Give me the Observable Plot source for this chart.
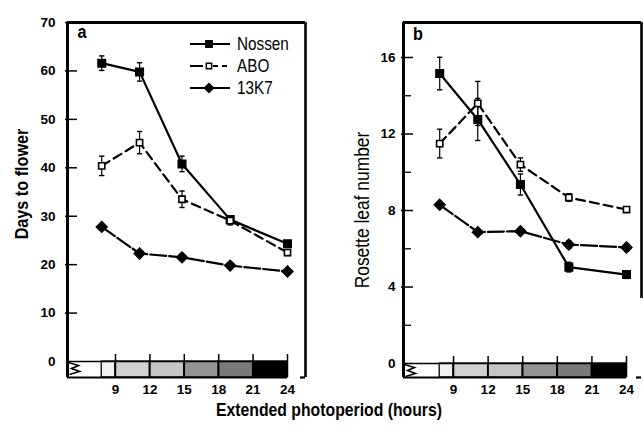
<!DOCTYPE html>
<html><head><meta charset="utf-8">
<script src="https://cdn.jsdelivr.net/npm/d3@7"></script>
<script src="https://cdn.jsdelivr.net/npm/@observablehq/plot@0.6"></script>
<style>
body{margin:0;background:#fff;}
#chart{position:relative;width:643px;height:427px;overflow:hidden;background:#fff;
  font-family:"Liberation Sans",Arial,sans-serif;color:#000;}
.lbl{position:absolute;white-space:nowrap;line-height:1;}
</style></head><body><div id="chart"></div>
<script>
// ---- data ----
const hours = [7.8, 11.1, 14.8, 19, 24];
const seriesNames = ["Nossen", "ABO", "13K7"];
// panel a: days to flower
const nossenDays = [61.6, 59.8, 40.8, 29.3, 24.3];
const aboDays    = [40.4, 45.2, 33.5, 29.1, 22.5];
const k7Days     = [27.8, 22.3, 21.5, 19.8, 18.6];
const nossenDaysErr = [1.5, 1.9, 1.6, 0.6, 0.6];
const aboDaysErr    = [2.0, 2.3, 1.7, 0.9, 0.6];
const k7DaysErr     = [0.4, 0.4, 0.4, 0.4, 0.4];
// panel b: rosette leaf number
const nossenLeaves = [15.16, 12.76, 9.36, 5.04, 4.65];
const aboLeaves    = [11.5, 13.6, 10.4, 8.68, 8.05];
const k7Leaves     = [8.3, 6.87, 6.92, 6.22, 6.07];
const nossenLeavesErr = [0.85, 1.1, 0.55, 0.25, 0.2];
const aboLeavesErr    = [0.75, 1.15, 0.35, 0.2, 0.12];
const k7LeavesErr     = [0.15, 0.1, 0.1, 0.2, 0.2];
// x tick labels and photoperiod bar
const xTicks = [9, 12, 15, 18, 21, 24];
const barStart = [7.8, 9, 12, 15, 18, 21];
const barEnd   = [9, 12, 15, 18, 21, 24];
const barShade = ["#f1f1f1", "#d0d0d0", "#c4c4c4", "#949494", "#7a7a7a", "#000000"];
// y ticks
const daysTicks = [0, 10, 20, 30, 40, 50, 60, 70];
const leafTicks = [0, 4, 8, 12, 16];
const leafMinor = [2, 6, 10, 14];

const FONT = "'Liberation Sans',Arial,sans-serif";
const styles = {
  Nossen: {dash: null, sym: "square", fill: "black", r: 4.2},
  ABO: {dash: "9,5", sym: "square", fill: "white", r: 3.5},
  "13K7": {dash: "16,3", sym: "diamond2", fill: "black", r: 4.8}
};
function rows(vals, errs) {
  return vals.flatMap((v, s) => hours.map((h, i) => ({name: seriesNames[s], h, v: v[i], e: errs[s][i]})));
}
const capSymbol = {draw(ctx, size) { const w = Math.sqrt(size) / 2; ctx.moveTo(-w, 0); ctx.lineTo(w, 0); }};
// axis-break zigzag glyph (decoration drawn in pixels relative to the frame corner)
const zigSymbol = {draw(ctx) {
  ctx.moveTo(1, 1); ctx.lineTo(11, 4); ctx.lineTo(4, 7); ctx.lineTo(12, 10); ctx.lineTo(2, 13);
}};

function panel({data, W, mr, xDomain, yDomain, yTicks, minor, tickPad, rightBottom}) {
  const [x0, x1] = xDomain, [y0, y1] = yDomain;
  const innerH = 427 - 22 - 50;
  const pxY = innerH / (y1 - y0);
  const pxX = (W - 67 - mr) / (x1 - x0);
  const segs = barStart.map((s, i) => ({a: s, b: barEnd[i], c: barShade[i]}));
  const caps = data.flatMap(d => [{h: d.h, y: d.v + d.e}, {h: d.h, y: d.v - d.e}]);
  const marks = [
    Plot.rect(segs, {x1: "a", x2: "b", y1: y0, y2: 0, fill: "c", stroke: "black", strokeWidth: 1.3}),
    Plot.ruleY([0], {x1: x0, x2: 24, strokeWidth: 1.5}),
    Plot.ruleY([y0], {x1: x0, x2: 24, strokeWidth: 2.2}),
    Plot.dot([0], {x: x0, y: 0, symbol: zigSymbol, stroke: "black", strokeWidth: 1.6, fill: "none"}),
    Plot.ruleX(xTicks, {y1: y0, y2: 7 / pxY, strokeWidth: 1.5}),
    Plot.ruleX([x0], {y1: y0, y2: y1, strokeWidth: 3}),
    Plot.ruleY([y1], {x1: x0, x2: x1, strokeWidth: 3}),
    Plot.ruleX([x1], {y1: rightBottom, y2: y1, strokeWidth: 2.6}),
    Plot.ruleY([y0], {x1: x1 - 5 / pxX, x2: x1, strokeWidth: 2.2}),
    Plot.ruleY(yTicks.filter(t => t > 0), {x1: x0 - 2 / pxX, x2: x0 + 10 / pxX, strokeWidth: 1.5}),
    Plot.ruleY(minor, {x1: x0, x2: x0 + 8 / pxX, strokeWidth: 1.3}),
    Plot.axisY(yTicks, {tickSize: 0, tickPadding: tickPad, fontSize: 13.5, fontWeight: "bold", label: null}),
    Plot.axisX(xTicks, {tickSize: 0, tickPadding: 7, fontSize: 13.5, fontWeight: "bold", label: null}),
    Plot.ruleX(data, {x: "h", y1: d => d.v - d.e, y2: d => d.v + d.e, strokeWidth: 1.2}),
    Plot.dot(caps, {x: "h", y: "y", symbol: capSymbol, r: 3, stroke: "black", strokeWidth: 1.4, fill: "none"})
  ];
  for (const n of seriesNames) {
    const st = styles[n];
    marks.push(Plot.line(data.filter(d => d.name === n), {x: "h", y: "v", stroke: "black", strokeWidth: 2.2, strokeDasharray: st.dash}));
  }
  for (const n of seriesNames) {
    const st = styles[n];
    marks.push(Plot.dot(data.filter(d => d.name === n), {x: "h", y: "v", symbol: st.sym, r: st.r, fill: st.fill, stroke: "black", strokeWidth: 1.6}));
  }
  const svg = Plot.plot({
    width: W, height: 427, marginLeft: 67, marginRight: mr, marginTop: 22, marginBottom: 50,
    x: {domain: xDomain}, y: {domain: yDomain}, color: {type: "identity"},
    style: {background: "transparent", fontFamily: FONT, color: "black"},
    marks
  });
  svg.style.position = "absolute";
  svg.style.top = "0px";
  return svg;
}

const chart = document.getElementById("chart");
const pa = panel({data: rows([nossenDays, aboDays, k7Days], [nossenDaysErr, aboDaysErr, k7DaysErr]),
  W: 336, mr: 31, xDomain: [4.815, 25.57], yDomain: [-3.3, 70], yTicks: daysTicks, minor: [], tickPad: 12, rightBottom: -3.3});
const pb = panel({data: rows([nossenLeaves, aboLeaves, k7Leaves], [nossenLeavesErr, aboLeavesErr, k7LeavesErr]),
  W: 307, mr: 2, xDomain: [4.66, 25.3], yDomain: [-0.73, 17.83], yTicks: leafTicks, minor: leafMinor, tickPad: 8, rightBottom: 3.4});
pa.style.left = "0px"; pb.style.left = "336px";
chart.append(pa, pb);

function label(text, x, y, css, rot, sx) {
  const d = document.createElement("div");
  d.className = "lbl"; d.textContent = text;
  d.style.left = x + "px"; d.style.top = y + "px";
  d.style.transform = "translate(-50%,-50%)" + (rot ? " rotate(-90deg)" : "") + ` scaleX(${sx || 1})`;
  Object.assign(d.style, css);
  chart.append(d);
}
label("a", 82, 32, {fontSize: "18px", fontWeight: "bold"}, false, 0.9);
label("b", 418, 34, {fontSize: "18px", fontWeight: "bold"}, false, 0.9);
label("Days to flower", 22, 184, {fontSize: "18px", fontWeight: "bold"}, true, 0.9);
label("Rosette leaf number", 362, 210, {fontSize: "20px"}, true, 0.87);
label("Extended photoperiod (hours)", 329, 409, {fontSize: "19px", fontWeight: "bold"}, false, 0.83);

// legend
const ns = "http://www.w3.org/2000/svg";
const lg = document.createElementNS(ns, "svg");
lg.setAttribute("width", 120); lg.setAttribute("height", 70);
lg.style.position = "absolute"; lg.style.left = "185px"; lg.style.top = "30px";
const sw = d3.select(lg);
seriesNames.forEach((n, i) => {
  const st = styles[n], y = 14 + i * 22;
  sw.append("line").attr("x1", 5).attr("x2", 45).attr("y1", y).attr("y2", y)
    .attr("stroke", "black").attr("stroke-width", 2).attr("stroke-dasharray", n === "ABO" ? "13,5,0,5,5,4,5" : null);
  const sym = d3.symbol(st.sym === "square" ? d3.symbolSquare : d3.symbolDiamond2, Math.PI * (st.r * 0.85) ** 2);
  sw.append("path").attr("d", sym()).attr("transform", `translate(24,${y})`)
    .attr("fill", st.fill).attr("stroke", "black").attr("stroke-width", 1.5);
  sw.append("text").attr("transform", `translate(52,${y}) scale(0.85,1)`).attr("dy", "0.36em").attr("font-size", 18)
    .attr("font-family", FONT).text(n);
});
chart.append(lg);
</script>
</body></html>
